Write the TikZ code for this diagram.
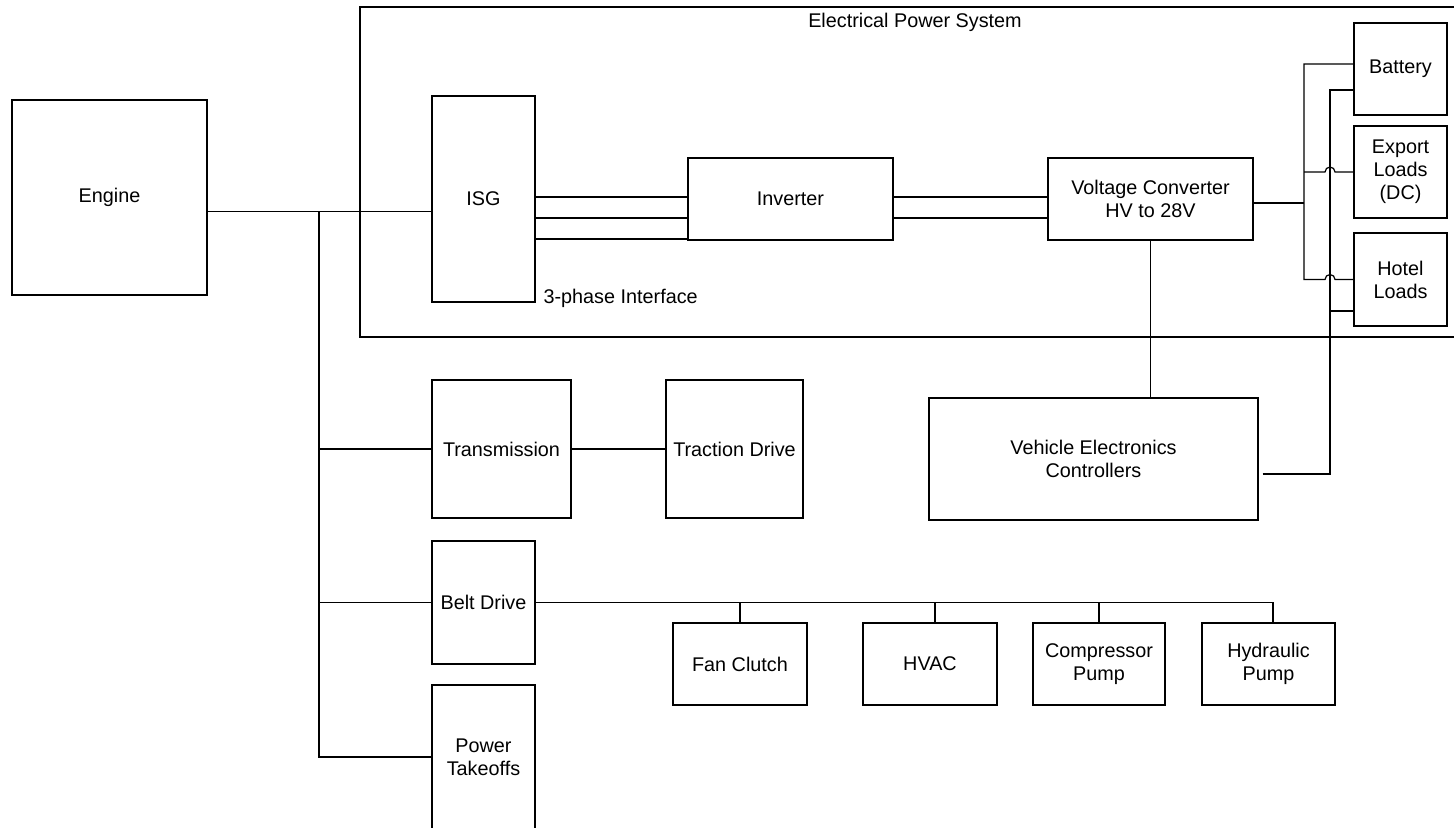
\documentclass[tikz,border=0pt]{standalone}
\usepackage{fontspec}
\setmainfont{Liberation Sans}
\usetikzlibrary{positioning}

\begin{document}
\begin{tikzpicture}[x=0.5pt,y=-0.5pt,line width=0.6pt,
  blk/.style={draw,rectangle,inner sep=1pt,align=center,font=\fontsize{9.9}{11.5}\selectfont},
  lbl/.style={inner sep=0pt,font=\fontsize{9.9}{11.5}\selectfont}]

	\useasboundingbox (0,0) rectangle (1454,828);
	\fill[white] (0,0) rectangle (1454,828);
	\clip (0,0) rectangle (1454,828);

	% electrical power system frame
	\draw (360,7) rectangle (1470,337);
	\node[lbl] (title) at (915,22) {Electrical Power System};

	\node[blk,minimum width=97.5pt,minimum height=97.5pt] (engine) at (109.5,197.5) {Engine};
	\node[blk,minimum width=51.5pt,minimum height=103pt] (isg) at (483.5,199) {ISG};
	\node[lbl,anchor=west] (phase) at (543,298) {3-phase Interface};
	\node[blk,minimum width=102.5pt,minimum height=41pt] (inv) at (790.5,199) {Inverter};
	\node[blk,minimum width=102.5pt,minimum height=41pt] (vconv) at (1150.5,199) {Voltage Converter\\HV to 28V};
	\node[blk,minimum width=46.5pt,minimum height=46pt] (batt) at (1400.5,69) {Battery};
	\node[blk,minimum width=46.5pt,minimum height=46pt] (export) at (1400.5,172) {Export\\Loads\\(DC)};
	\node[blk,minimum width=46.5pt,minimum height=46.5pt] (hotel) at (1400.5,279.5) {Hotel\\Loads};
	\node[blk,minimum width=164.5pt,minimum height=61pt] (vec) at (1093.5,459) {Vehicle Electronics\\Controllers};

	\node[blk,minimum width=69.5pt,minimum height=69pt] (trans) at (501.5,449) {Transmission};
	\node[blk,minimum width=68.5pt,minimum height=69pt] (tract) at (734.5,449) {Traction Drive};
	\node[blk,minimum width=51.5pt,minimum height=61.5pt] (belt) at (483.5,602.5) {Belt Drive};
	\node[blk,minimum width=51.5pt,minimum height=72pt] (pto) at (483.5,757) {Power\\Takeoffs};

	\node[blk,minimum width=67pt,minimum height=41pt] (fan) at (740,664) {Fan Clutch};
	\node[blk,minimum width=67pt,minimum height=41pt] (hvac) at (930,664) {HVAC};
	\node[blk,minimum width=66pt,minimum height=41pt] (comp) at (1099,664) {Compressor\\Pump};
	\node[blk,minimum width=66.5pt,minimum height=41pt] (hydr) at (1268.5,664) {Hydraulic\\Pump};

	% mechanical side
	\coordinate (shaft) at ([yshift=-7pt]engine.east);
	\coordinate (trunk) at (319,0);
	\draw (shaft) -- (shaft -| isg.west);
	\draw (shaft -| trunk) |- (pto.west);
	\draw (trunk |- trans.west) -- (trans.west);
	\draw (trunk |- belt.west) -- (belt.west);
	\draw (trans.east) -- (tract.west);

	\draw (belt.east) -| (fan.north);
	\draw (belt.east) -| ([xshift=2.5pt]hvac.north);
	\draw (belt.east) -| (comp.north);
	\draw (belt.east) -| ([xshift=2.25pt]hydr.north);

	% electrical side
	\foreach \dy in {1,-9.5,-20}
		\draw ([yshift=\dy pt]isg.east) -- ([yshift=\dy pt]inv.west);
	\foreach \dy in {1,-9.5}
		\draw ([yshift=\dy pt]inv.east) -- ([yshift=\dy pt]vconv.west);
	\draw (vconv.south) -- (vconv.south |- vec.north);

	\coordinate (busx) at (1304,0);
	\coordinate (ctlx) at (1330,0);
	\coordinate (jx) at (1325,0);
	\coordinate (b1) at ([yshift=2.5pt]batt.west);
	\coordinate (b2) at ([yshift=-10.5pt]batt.west);
	\coordinate (h2) at ([yshift=-15.75pt]hotel.west);
	\coordinate (vout) at ([yshift=-2pt]vconv.east);

	\draw (vout) -- (vout -| busx);
	\draw (b1) -| (busx |- hotel.west) -- (jx |- hotel.west)
		arc[start angle=180,end angle=0,radius=2.5pt] -- (hotel.west);
	\draw (busx |- export.west) -- (jx |- export.west)
		arc[start angle=180,end angle=0,radius=2.5pt] -- (export.west);
	\draw ([xshift=2pt,yshift=-7.5pt]vec.east) -| (ctlx |- b2) -- (b2);
	\draw (ctlx |- h2) -- (h2);
\end{tikzpicture}
\end{document}
